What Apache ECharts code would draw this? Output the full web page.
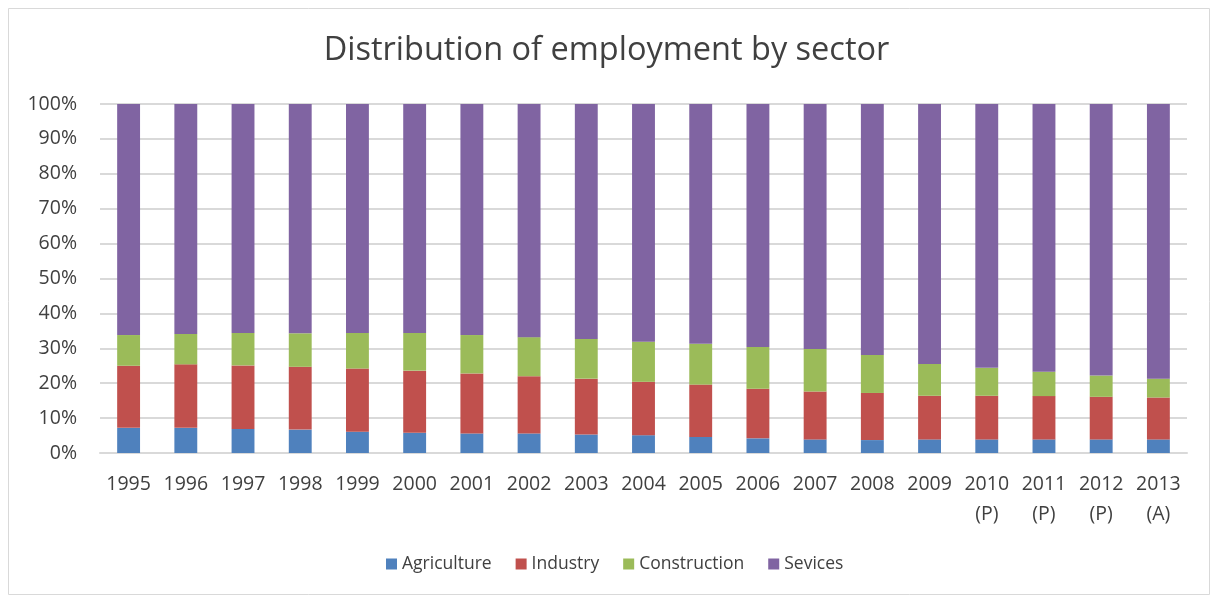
<!DOCTYPE html>
<html>
<head>
<meta charset="utf-8">
<script src="https://cdn.jsdelivr.net/npm/echarts@6/dist/echarts.min.js"></script>
<style>
  html, body { margin: 0; padding: 0; background: #ffffff; }
  #chart { width: 1213px; height: 597px; }
</style>
</head>
<body>
<div id="chart"></div>
<script>
// Years on the category axis (second line marks provisional / actual figures)
const years = ['1995', '1996', '1997', '1998', '1999', '2000', '2001', '2002', '2003', '2004',
  '2005', '2006', '2007', '2008', '2009', '2010\n(P)', '2011\n(P)', '2012\n(P)', '2013\n(A)'];

// Share of employment by sector, percent of total
const agriculture = [7.2, 7.2, 6.9, 6.7, 6.1, 5.8, 5.6, 5.6, 5.3, 5.1, 4.6, 4.2, 3.9, 3.7, 3.9, 3.9, 3.9, 3.9, 3.9];
const industry = [17.8, 18.2, 18.2, 18.0, 18.1, 17.8, 17.2, 16.4, 16.0, 15.3, 15.0, 14.2, 13.7, 13.5, 12.5, 12.5, 12.4, 12.2, 12.0];
const construction = [8.8, 8.7, 9.3, 9.6, 10.2, 10.8, 11.0, 11.2, 11.4, 11.5, 11.7, 12.0, 12.2, 10.9, 9.1, 8.0, 7.0, 6.1, 5.4];
const services = [66.2, 65.9, 65.6, 65.7, 65.6, 65.6, 66.2, 66.8, 67.3, 68.1, 68.7, 69.6, 70.2, 71.9, 74.5, 75.6, 76.7, 77.8, 78.7];

const seriesNames = ['Agriculture', 'Industry', 'Construction', 'Sevices'];
const seriesColors = ['#4F81BD', '#C0504D', '#9BBB59', '#8064A2'];
const seriesData = [agriculture, industry, construction, services];

const FONT = '"Open Sans", Lato, sans-serif';

const chart = echarts.init(document.getElementById('chart'), null, { renderer: 'canvas' });

chart.setOption({
  animation: false,
  backgroundColor: '#ffffff',
  graphic: [{
    type: 'rect',
    left: 6, top: 6,
    shape: { width: 1201, height: 586 },
    style: { fill: 'none', stroke: '#D9D9D9', lineWidth: 1 },
    silent: true
  }],
  title: {
    text: 'Distribution of employment by sector',
    left: 'center',
    top: 29,
    textStyle: { fontFamily: FONT, fontSize: 32.5, fontWeight: 'normal', color: '#404040' }
  },
  legend: {
    bottom: 19,
    left: 381,
    itemWidth: 11,
    itemHeight: 11,
    itemGap: 24,
    icon: 'rect',
    textStyle: { fontFamily: FONT, fontSize: 17.5, color: '#404040' },
    data: seriesNames
  },
  grid: { left: 100, right: 26, top: 104, bottom: 144, containLabel: false },
  xAxis: {
    type: 'category',
    data: years,
    axisLine: { show: true, lineStyle: { color: '#D9D9D9', width: 2 } },
    axisTick: { show: false },
    axisLabel: {
      fontFamily: FONT, fontSize: 19.5, color: '#404040', margin: 16,
      lineHeight: 30, interval: 0, verticalAlign: 'top'
    }
  },
  yAxis: {
    type: 'value',
    min: 0, max: 100, interval: 10,
    axisLine: { show: false },
    axisTick: { show: false },
    splitLine: { lineStyle: { color: '#D9D9D9', width: 2 } },
    axisLabel: { fontFamily: FONT, fontSize: 19.5, color: '#404040', margin: 23, formatter: '{value}%' }
  },
  series: seriesNames.map((name, i) => ({
    name,
    type: 'bar',
    stack: 'total',
    barWidth: '40%',
    itemStyle: { color: seriesColors[i] },
    data: seriesData[i]
  }))
});
</script>
</body>
</html>
